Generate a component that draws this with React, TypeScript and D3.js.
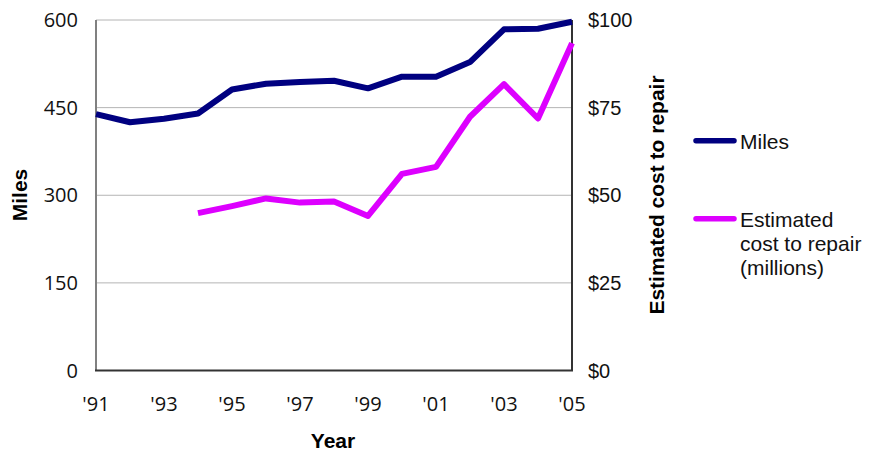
import { useEffect, useRef } from 'react';
import * as d3 from 'd3';

const years = [1991, 1992, 1993, 1994, 1995, 1996, 1997, 1998, 1999, 2000, 2001, 2002, 2003, 2004, 2005];
const miles = [439, 425, 431, 440, 481, 491, 494, 496, 483, 503, 503, 528, 584, 585, 597];
const costYears = [1994, 1995, 1996, 1997, 1998, 1999, 2000, 2001, 2002, 2003, 2004, 2005];
const cost = [44.9, 46.9, 49.1, 47.9, 48.2, 44.1, 56.1, 58.1, 72.4, 81.7, 71.9, 93.4];
const milesTicks = [0, 150, 300, 450, 600];
const costTicks = [0, 25, 50, 75, 100];
const yearTicks = [1991, 1993, 1995, 1997, 1999, 2001, 2003, 2005];

const COLORS = { miles: '#000080', cost: '#DD00FF' };

const App = () => {
  const svgRef = useRef<SVGSVGElement>(null);

  useEffect(() => {
    const svg = d3.select(svgRef.current);
    svg.selectAll('*').remove();

    const margin = { left: 96, right: 572, top: 20, bottom: 370.5 };

    const x = d3.scaleLinear().domain([1991, 2005]).range([margin.left, margin.right]);
    const yL = d3.scaleLinear().domain([0, 600]).range([margin.bottom, margin.top]);
    const yR = d3.scaleLinear().domain([0, 100]).range([margin.bottom, margin.top]);

    // gridlines
    svg.append('g')
      .selectAll('line')
      .data(milesTicks.filter(d => d > 0))
      .enter()
      .append('line')
      .attr('x1', margin.left)
      .attr('x2', margin.right)
      .attr('y1', d => yL(d))
      .attr('y2', d => yL(d))
      .attr('stroke', '#b4b4b4')
      .attr('stroke-width', 1);

    // axes lines
    svg.append('line')
      .attr('x1', margin.left).attr('x2', margin.left)
      .attr('y1', margin.top).attr('y2', margin.bottom)
      .attr('stroke', '#808080').attr('stroke-width', 2);
    svg.append('line')
      .attr('x1', margin.right).attr('x2', margin.right)
      .attr('y1', margin.top).attr('y2', margin.bottom)
      .attr('stroke', '#333').attr('stroke-width', 2);
    svg.append('line')
      .attr('x1', margin.left - 1).attr('x2', margin.right + 1)
      .attr('y1', margin.bottom).attr('y2', margin.bottom)
      .attr('stroke', '#333').attr('stroke-width', 2);

    // left tick labels
    svg.append('g')
      .selectAll('text')
      .data(milesTicks)
      .enter()
      .append('text')
      .attr('x', 78)
      .attr('y', d => yL(d))
      .attr('dy', '0.35em')
      .attr('text-anchor', 'end')
      .attr('font-family', 'Open Sans')
      .attr('font-size', 20)
      .attr('fill', '#111')
      .text(d => d);

    // right tick labels
    svg.append('g')
      .selectAll('text')
      .data(costTicks)
      .enter()
      .append('text')
      .attr('x', 588)
      .attr('y', d => yR(d))
      .attr('dy', '0.36em')
      .attr('font-family', 'Liberation Sans, Arial')
      .attr('font-size', 20)
      .attr('fill', '#111')
      .text(d => `$${d}`);

    // x tick labels
    svg.append('g')
      .selectAll('text')
      .data(yearTicks)
      .enter()
      .append('text')
      .attr('x', d => x(d))
      .attr('y', 411)
      .attr('text-anchor', 'middle')
      .attr('font-family', 'Open Sans')
      .attr('font-size', 20)
      .attr('fill', '#111')
      .text(d => `'${String(d).slice(2)}`);

    // axis titles
    svg.append('text')
      .attr('transform', `translate(27,195) rotate(-90)`)
      .attr('text-anchor', 'middle')
      .attr('font-family', 'Liberation Sans, Arial')
      .attr('font-weight', 'bold')
      .attr('font-size', 21)
      .text('Miles');
    svg.append('text')
      .attr('transform', `translate(664,195) rotate(-90)`)
      .attr('text-anchor', 'middle')
      .attr('font-family', 'Liberation Sans, Arial')
      .attr('font-weight', 'bold')
      .attr('font-size', 21)
      .text('Estimated cost to repair');
    svg.append('text')
      .attr('x', 333)
      .attr('y', 448)
      .attr('text-anchor', 'middle')
      .attr('font-family', 'Liberation Sans, Arial')
      .attr('font-weight', 'bold')
      .attr('font-size', 21)
      .text('Year');

    // lines
    const milesLine = d3.line<number>()
      .x((_, i) => x(years[i]))
      .y(d => yL(d));
    const costLine = d3.line<number>()
      .x((_, i) => x(costYears[i]))
      .y(d => yR(d));

    svg.append('path')
      .datum(miles)
      .attr('fill', 'none')
      .attr('stroke', COLORS.miles)
      .attr('stroke-width', 6)
      .attr('stroke-linejoin', 'round')
      .attr('d', milesLine);

    svg.append('path')
      .datum(cost)
      .attr('fill', 'none')
      .attr('stroke', COLORS.cost)
      .attr('stroke-width', 6)
      .attr('stroke-linejoin', 'round')
      .attr('d', costLine);

    // legend
    const legendData = [
      { lines: ['Miles'], color: COLORS.miles, y: 140.7 },
      { lines: ['Estimated', 'cost to repair', '(millions)'], color: COLORS.cost, y: 218.7 }
    ];
    legendData.forEach(item => {
      svg.append('line')
        .attr('x1', 696).attr('x2', 734)
        .attr('y1', item.y).attr('y2', item.y)
        .attr('stroke', item.color)
        .attr('stroke-width', 5.5)
        .attr('stroke-linecap', 'round');
      item.lines.forEach((t, i) => {
        svg.append('text')
          .attr('x', 740)
          .attr('y', item.y + 8 + i * 24)
          .attr('font-family', 'Liberation Sans, Arial')
          .attr('font-size', 21)
          .attr('fill', '#111')
          .text(t);
      });
    });
  }, []);

  return <svg ref={svgRef} width={873} height={455} style={{ position: 'absolute', left: 0, top: 0 }} />;
};

export default App;
